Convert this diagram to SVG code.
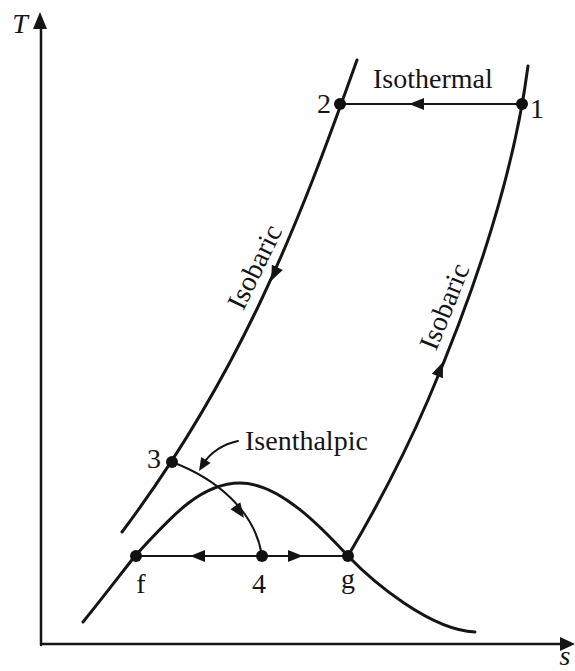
<svg xmlns="http://www.w3.org/2000/svg" width="575" height="671" viewBox="0 0 575 671">
<style>
.ln{fill:none;stroke:#151515;stroke-linecap:round;stroke-linejoin:round}
.thick{stroke-width:3}
.thin{stroke-width:2}
.ah{fill:#151515}
.dot{fill:#111}
text{font-family:"Liberation Serif","Times New Roman",serif;fill:#151515;font-size:28px}
.it{font-style:italic}
</style>
<rect width="575" height="671" fill="#fff"/>
<g id="axes">
<path class="ln" d="M41,645 L41,26 M41,644 L562,644" stroke-width="2.5"/>
<polygon class="ah" points="40,12 33,29 47,29"/>
<polygon class="ah" points="575,644 560,637 560,651"/>
<text class="it" x="20" y="33" text-anchor="middle">T</text>
<text class="it" x="565" y="665" text-anchor="middle">s</text>
</g>
<g id="connectors">
<path id="isobaric-left" class="ln thick" d="M357,60 C300,220 242,372 122,532"/>
<path id="isobaric-right" class="ln thick" d="M528,66 C513.6,177 475.7,289 428,400 C405.6,452 379.2,503 348,556"/>
<path id="isothermal" class="ln thin" d="M340,104 L522,104"/>
<path id="dome" class="ln thick" d="M83,622 C100,601 120,575 135,556 C170,518 200,483 240,483 C280,483 323,529 348,556 C373,582 430,630 475,632"/>
<path id="isenthalpic" class="ln thin" d="M172,462 C215,478 255,510 262,556"/>
<path id="fg" class="ln thin" d="M136,556 L348,556"/>
<path id="leader" class="ln thin" d="M238,441 Q215,446 203,464"/>
<polygon class="ah" points="0,0 -15,-6 -15,6" transform="translate(409,104) rotate(180)"/>
<polygon class="ah" points="0,0 -15,-6 -15,6" transform="translate(271,281) rotate(115)"/>
<polygon class="ah" points="0,0 -15,-6 -15,6" transform="translate(443,362) rotate(-68)"/>
<polygon class="ah" points="0,0 -15,-6 -15,6" transform="translate(244,518) rotate(55)"/>
<polygon class="ah" points="0,0 -15,-6 -15,6" transform="translate(190,556) rotate(180)"/>
<polygon class="ah" points="0,0 -15,-6 -15,6" transform="translate(303,556)"/>
<polygon class="ah" points="0,0 -13,-5.5 -13,5.5" transform="translate(199,471) rotate(122)"/>
</g>
<g id="node-1"><circle class="dot" cx="522" cy="104" r="6"/><text x="537" y="118" text-anchor="middle">1</text></g>
<g id="node-2"><circle class="dot" cx="340" cy="104" r="6"/><text x="324" y="113" text-anchor="middle">2</text></g>
<g id="node-3"><circle class="dot" cx="172" cy="462" r="6"/><text x="154" y="468" text-anchor="middle">3</text></g>
<g id="node-f"><circle class="dot" cx="136" cy="556" r="6"/><text x="141" y="593" text-anchor="middle">f</text></g>
<g id="node-4"><circle class="dot" cx="262" cy="556" r="6"/><text x="259" y="593" text-anchor="middle">4</text></g>
<g id="node-g"><circle class="dot" cx="348" cy="556" r="6"/><text x="348" y="588" text-anchor="middle">g</text></g>
<g id="labels">
<text x="373" y="88">Isothermal</text>
<text x="245" y="450">Isenthalpic</text>
<text transform="translate(263,271) rotate(-64)" text-anchor="middle">Isobaric</text>
<text transform="translate(453,310) rotate(-68)" text-anchor="middle">Isobaric</text>
</g>
</svg>
